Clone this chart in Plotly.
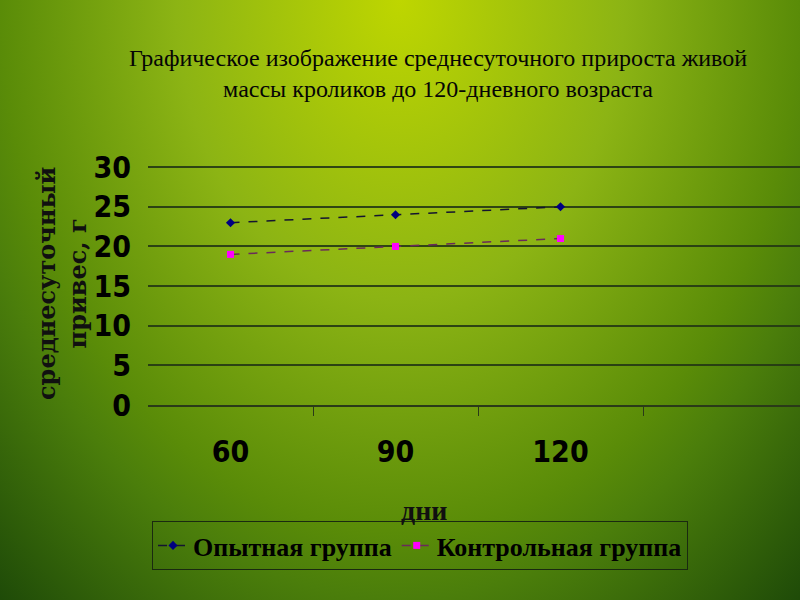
import base64
import plotly.graph_objects as go

# Data
days = ["60", "90", "120"]
experimental = [23, 24, 25]
control = [19, 20, 21]
series_names = ["Опытная группа", "Контрольная группа"]
title_text = "Графическое изображение среднесуточного прироста живой<br>массы кроликов до 120-дневного возраста"
y_title = "среднесуточный<br>привес, г"
x_title = "дни"

W, H = 800, 600
L, R, T, B = 148, 0, 166, 195
pw, ph = W - L - R, H - T - B

svg = f'''<svg xmlns="http://www.w3.org/2000/svg" width="800" height="600" viewBox="0 0 800 600" preserveAspectRatio="none">
<defs><radialGradient id="g" gradientUnits="userSpaceOnUse" cx="400" cy="0" r="830"
 gradientTransform="translate(400 0) scale(0.75 1) translate(-400 0)">
<stop offset="0" stop-color="#bed600"/>
<stop offset="0.36" stop-color="#8cb414"/>
<stop offset="0.64" stop-color="#5a8c08"/>
<stop offset="0.72" stop-color="#4b7e0b"/>
<stop offset="0.97" stop-color="#1e4a08"/>
<stop offset="1" stop-color="#1c4608"/>
</radialGradient></defs>
<rect width="800" height="600" fill="url(#g)"/></svg>'''
src = "data:image/svg+xml;base64," + base64.b64encode(svg.encode()).decode()

xi = list(range(len(days)))

fig = go.Figure()
fig.add_trace(go.Scatter(
    x=xi, y=experimental, name=series_names[0], mode="lines+markers",
    line=dict(color="#141430", width=1.5, dash="dash"),
    marker=dict(symbol="diamond", size=7, color="#000080"),
))
fig.add_trace(go.Scatter(
    x=xi, y=control, name=series_names[1], mode="lines+markers",
    line=dict(color="#6a2a5a", width=1.5, dash="dash"),
    marker=dict(symbol="square", size=7, color="#ff00ff"),
))

tickfont = dict(family="DejaVu Sans Condensed, Liberation Sans Narrow, Open Sans", size=30, color="black", weight="bold")
serif = "Liberation Serif, Times New Roman, serif"

fig.update_layout(
    width=W, height=H,
    margin=dict(l=L, r=R, t=T, b=B),
    paper_bgcolor="#4a800a",
    plot_bgcolor="rgba(0,0,0,0)",
    showlegend=True,
    images=[dict(source=src, xref="paper", yref="paper",
                 x=-L / pw, y=1 + T / ph, sizex=W / pw, sizey=H / ph,
                 xanchor="left", yanchor="top", sizing="stretch", layer="below")],
    title=dict(text=title_text, x=438 / W, xanchor="center", xref="container",
               y=1 - 66 / H, yanchor="middle", yref="container",
               font=dict(family=serif, size=24, color="#050505")),
    xaxis=dict(
        range=[-0.5, -0.5 + pw / 165.0], tickvals=xi, ticktext=days,
        showgrid=False, zeroline=False, showline=True, linecolor="#2a3a18", linewidth=1.5,
        ticks="", tickfont=tickfont, ticklabelstandoff=19,
        minor=dict(tickvals=[0.5, 1.5, 2.5], ticks="outside", ticklen=9, tickcolor="#2a3a18", tickwidth=1),
    ),
    yaxis=dict(
        range=[0, 30.15], tickvals=[0, 5, 10, 15, 20, 25, 30],
        showgrid=True, gridcolor="rgba(35,55,20,0.9)", gridwidth=1.5,
        zeroline=False, showline=False, ticks="", tickfont=tickfont, ticklabelstandoff=16,
    ),
    legend=dict(orientation="h", x=(152 - L) / pw, xanchor="left", y=(405 - 521) / ph, yanchor="top",
                bgcolor="rgba(0,0,0,0)", bordercolor="#1a2a10", borderwidth=1,
                font=dict(family=serif, size=26, color="black", weight="bold")),
    annotations=[
        dict(text=y_title, xref="paper", yref="paper", x=(62 - L) / pw, y=(405 - 284) / ph,
             xanchor="center", yanchor="middle", textangle=-90, showarrow=False,
             font=dict(family="DejaVu Serif, serif", size=24, color="#101010", weight="bold")),
        dict(text=x_title, xref="paper", yref="paper", x=(424 - L) / pw, y=(405 - 510) / ph,
             xanchor="center", yanchor="middle", showarrow=False,
             font=dict(family=serif, size=28, color="#101010", weight="bold")),
    ],
)

fig.write_html("out.html", config={"displayModeBar": False},
               post_script=["document.body.style.margin='0px';"])
